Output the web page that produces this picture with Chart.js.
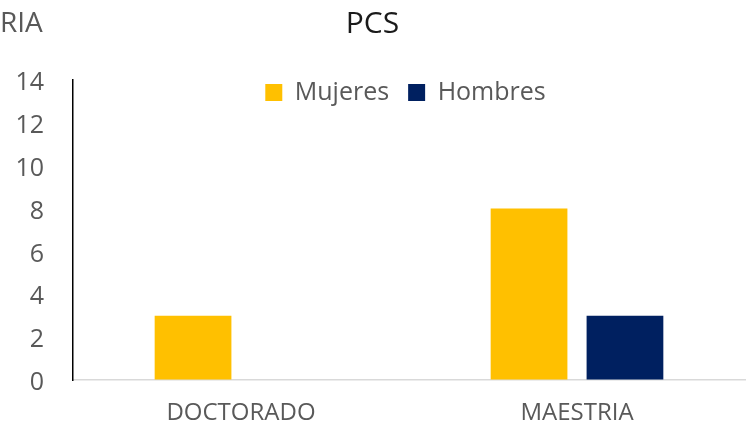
<!DOCTYPE html>
<html>
<head>
<meta charset="utf-8">
<script src="https://cdn.jsdelivr.net/npm/chart.js@4.4.1/dist/chart.umd.min.js"></script>
<style>
  html, body { margin: 0; padding: 0; background: #fff; }
  #wrap { position: relative; width: 751px; height: 442px; overflow: hidden; }
  #corte { position: absolute; left: 0; top: 7px; font: 28px "Open Sans"; color: #595959; line-height: 1; }
</style>
</head>
<body>
<div id="wrap">
  <canvas id="grafico" width="751" height="442"></canvas>
  <div id="corte">RIA</div>
</div>
<script>
// datos
const categorias = ['DOCTORADO', 'MAESTRIA'];
const mujeres = [3, 8];
const hombres = [0, 3];
const ticksY = [0, 2, 4, 6, 8, 10, 12, 14];

const gris = '#595959';

// la leyenda no ocupa sitio arriba: se dibuja dentro del area, como en excel
const leyendaDentro = {
  id: 'leyendaDentro',
  afterInit(chart) {
    const lg = chart.legend;
    const fitOriginal = lg.fit.bind(lg);
    lg.fit = function () {
      fitOriginal();
      this.altoReal = this.height;
      this.height = 0;
    };
  },
  afterLayout(chart) {
    const lg = chart.legend;
    lg.top = 61;
    lg.bottom = 61 + (lg.altoReal || 80);
    lg.left += 33;
    lg.right += 33;
  }
};

const ctx = document.getElementById('grafico').getContext('2d');
new Chart(ctx, {
  type: 'bar',
  data: {
    labels: categorias,
    datasets: [
      { label: 'Mujeres', data: mujeres, backgroundColor: '#FFC000' },
      { label: 'Hombres', data: hombres, backgroundColor: '#002060' }
    ]
  },
  options: {
    responsive: false,
    animation: false,
    layout: { padding: { left: 0, right: 6, top: 0, bottom: 0 } },
    datasets: { bar: { categoryPercentage: 0.571, barPercentage: 0.8 } },
    scales: {
      x: {
        grid: { display: true, color: 'transparent', drawTicks: false },
        border: { display: true, color: '#d9d9d9', width: 1.5 },
        ticks: { color: gris, font: { family: 'Open Sans', size: 24 }, padding: 19 },
        afterFit: (axis) => { axis.height = 62; }
      },
      y: {
        min: 0,
        max: 14,
        grid: { display: true, color: 'transparent', drawTicks: false },
        border: { display: true, color: '#000', width: 1.5 },
        ticks: {
          stepSize: 2,
          color: gris,
          font: { family: 'Open Sans', size: 25 },
          padding: 29,
          labelOffset: 3,
          callback: (v) => ticksY.includes(v) ? v : ''
        },
        afterFit: (axis) => { axis.width = 73; }
      }
    },
    plugins: {
      title: {
        display: true,
        text: 'PCS',
        color: '#1a1a1a',
        font: { family: 'Open Sans', size: 30, weight: 'normal' },
        padding: { top: 6, bottom: 38 }
      },
      legend: {
        position: 'top',
        align: 'center',
        labels: {
          boxWidth: 17,
          boxHeight: 17,
          padding: 19,
          color: gris,
          font: { family: 'Open Sans', size: 25 }
        }
      },
      tooltip: { enabled: false }
    }
  },
  plugins: [leyendaDentro]
});
</script>
</body>
</html>
